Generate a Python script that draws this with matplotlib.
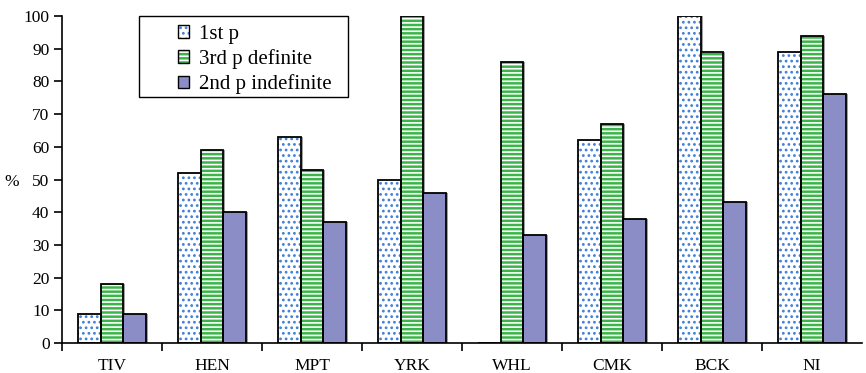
import numpy as np
import matplotlib.pyplot as plt
from matplotlib.patches import Rectangle

plt.rcParams['font.family'] = ['Liberation Serif', 'DejaVu Serif']
plt.rcParams['hatch.linewidth'] = 1.2

categories = ['TIV', 'HEN', 'MPT', 'YRK', 'WHL', 'CMK', 'BCK', 'NI']
first_p = [9, 52, 63, 50, 0, 62, 100, 89]
third_p_def = [18, 59, 53, 100, 86, 67, 89, 94]
second_p_indef = [9, 40, 37, 46, 33, 38, 43, 76]
series_labels = ['1st p', '3rd p definite', '2nd p indefinite']

fig = plt.figure(figsize=(8.66, 3.73), dpi=100)
ax = fig.add_axes([62 / 866, 30 / 373, 800 / 866, 327 / 373])

x = np.arange(len(categories))
w = 0.227
styles = [
    dict(face='white', hatch='...', hcol='#3f7fd6'),
    dict(face='#3bb54a', hatch='----', hcol='white'),
    dict(face='#8b8ec6', hatch='', hcol='#8b8ec6'),
]
handles = []
for i, (vals, st) in enumerate(zip([first_p, third_p_def, second_p_indef], styles)):
    pos = x + (i - 1) * w
    # shadow, fill+hatch, then black outline
    ax.bar(pos + 0.02, vals, w, color='#a0a0a0', linewidth=0, zorder=1)
    ax.bar(pos, vals, w, color=st['face'], hatch=st['hatch'],
           edgecolor=st['hcol'], linewidth=0, zorder=2)
    ax.bar(pos, vals, w, fill=False, edgecolor='black', linewidth=1.3, zorder=3)
    h1 = Rectangle((0, 0), 1, 1, facecolor=st['face'], hatch=st['hatch'],
                   edgecolor=st['hcol'], linewidth=0)
    h2 = Rectangle((0, 0), 1, 1, fill=False, edgecolor='black', linewidth=1.0)
    handles.append((h1, h2))

ax.set_xlim(-0.5, len(categories) - 0.5)
ax.set_ylim(0, 100)
ax.set_yticks(range(0, 101, 10))
ax.set_xticks(x)
ax.set_xticklabels(categories, fontsize=12.5)
ax.set_xticks(np.arange(len(categories)) - 0.5, minor=True)
ax.tick_params(axis='x', which='major', length=0, pad=11)
ax.tick_params(axis='x', which='minor', length=6, width=1.2, direction='out')
ax.tick_params(axis='y', length=6, width=1.2, direction='out', labelsize=12.5, pad=3)
for s in ['top', 'right']:
    ax.spines[s].set_visible(False)
for s in ['left', 'bottom']:
    ax.spines[s].set_linewidth(1.2)

fig.text(12 / 866, 1 - 182 / 373, '%', fontsize=12.5, ha='center', va='center')

# legend box drawn separately for its wide side padding
fig.patches.append(Rectangle((139 / 866, 1 - 97 / 373), 209 / 866, 81 / 373,
                             transform=fig.transFigure, fill=False,
                             edgecolor='black', linewidth=1.0, zorder=5))
leg = fig.legend(handles, series_labels, loc='upper left',
                 bbox_to_anchor=(178 / 866, 1 - 25 / 373),
                 fontsize=15, frameon=False,
                 handlelength=0.55, handleheight=0.55, handletextpad=0.45,
                 labelspacing=0.25, borderpad=0, borderaxespad=0)

fig.savefig('out.png', dpi=100)
